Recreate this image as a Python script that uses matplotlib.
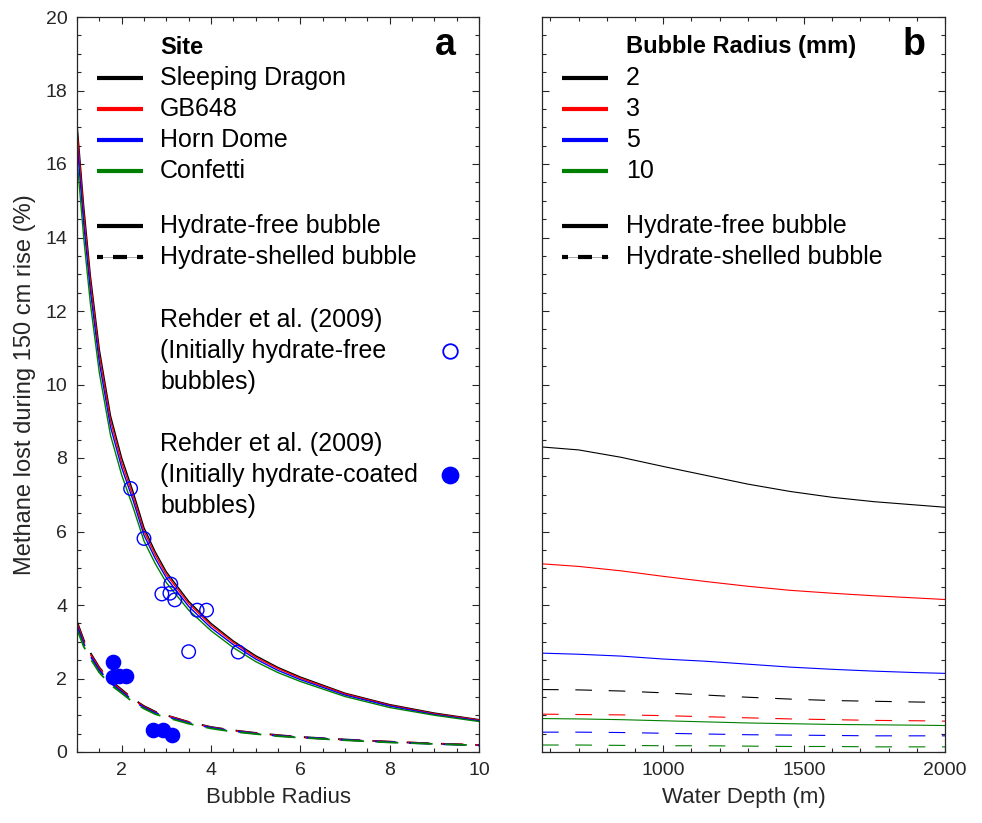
import numpy as np
import matplotlib
matplotlib.use("Agg")
import matplotlib.pyplot as plt
from matplotlib.lines import Line2D
from matplotlib.ticker import MultipleLocator

plt.rcParams['font.family'] = ['Liberation Sans', 'DejaVu Sans']

# ---- panel a: loss vs bubble radius ----
radius = [1.0, 1.15, 1.3, 1.5, 1.75, 2.0, 2.25, 2.5, 2.75, 3.0, 3.5, 4.0, 4.5,
          5.0, 5.5, 6.0, 7.0, 8.0, 9.0, 10.0]
free_sd = [17.1, 14.85, 12.95, 10.95, 9.15, 8.0, 7.1, 6.1, 5.45, 4.9, 4.1, 3.5, 3.02,
           2.62, 2.3, 2.04, 1.6, 1.29, 1.06, 0.88]
free_gb = [16.9, 14.65, 12.78, 10.8, 9.02, 7.88, 6.99, 6.01, 5.37, 4.83, 4.04, 3.45, 2.98,
           2.58, 2.27, 2.01, 1.58, 1.27, 1.04, 0.87]
free_hd = [16.6, 14.38, 12.54, 10.6, 8.85, 7.74, 6.87, 5.9, 5.27, 4.74, 3.96, 3.38, 2.92,
           2.53, 2.22, 1.97, 1.55, 1.25, 1.02, 0.85]
free_cf = [16.15, 14.0, 12.2, 10.32, 8.62, 7.54, 6.68, 5.74, 5.13, 4.61, 3.86, 3.3, 2.84,
           2.46, 2.16, 1.92, 1.51, 1.21, 1.0, 0.83]
shell_sd = [3.55, 3.05, 2.7, 2.3, 1.95, 1.7, 1.45, 1.25, 1.1, 1.0, 0.82, 0.68, 0.59,
            0.52, 0.46, 0.41, 0.34, 0.28, 0.23, 0.19]
shell_gb = [3.5, 3.0, 2.66, 2.27, 1.92, 1.67, 1.43, 1.23, 1.08, 0.99, 0.81, 0.67, 0.58,
            0.51, 0.45, 0.4, 0.33, 0.28, 0.23, 0.19]
shell_hd = [3.43, 2.94, 2.61, 2.22, 1.88, 1.64, 1.4, 1.21, 1.06, 0.97, 0.79, 0.66, 0.57,
            0.5, 0.44, 0.4, 0.33, 0.27, 0.22, 0.18]
shell_cf = [3.34, 2.87, 2.54, 2.16, 1.83, 1.6, 1.36, 1.18, 1.03, 0.94, 0.77, 0.64, 0.55,
            0.49, 0.43, 0.39, 0.32, 0.26, 0.22, 0.18]

sites = ['Sleeping Dragon', 'GB648', 'Horn Dome', 'Confetti']
site_colors = ['black', '#ff0000', '#0000ff', '#008000']

# Rehder et al. (2009)
rehder_free_r = [2.2, 2.5, 2.9, 3.08, 3.1, 3.19, 3.5, 3.69, 3.9, 4.61]
rehder_free_v = [7.17, 5.81, 4.30, 4.32, 4.57, 4.14, 2.73, 3.86, 3.86, 2.72]
rehder_coat_r = [1.8, 1.8, 1.95, 2.1, 2.7, 2.92, 3.12]
rehder_coat_v = [2.46, 2.05, 2.08, 2.06, 0.60, 0.60, 0.47]

# ---- panel b: loss vs water depth ----
depth = [570, 700, 850, 1000, 1150, 1300, 1450, 1600, 1750, 1900, 2000]
free_r2 = [8.30, 8.22, 8.02, 7.77, 7.53, 7.29, 7.09, 6.93, 6.81, 6.72, 6.66]
free_r3 = [5.12, 5.05, 4.93, 4.78, 4.64, 4.51, 4.40, 4.32, 4.25, 4.19, 4.15]
free_r5 = [2.69, 2.66, 2.61, 2.53, 2.47, 2.39, 2.31, 2.25, 2.20, 2.16, 2.14]
free_r10 = [0.91, 0.90, 0.88, 0.85, 0.82, 0.79, 0.77, 0.75, 0.74, 0.73, 0.72]
shell_r2 = [1.70, 1.69, 1.66, 1.61, 1.55, 1.49, 1.44, 1.40, 1.38, 1.36, 1.35]
shell_r3 = [1.03, 1.02, 1.01, 0.99, 0.96, 0.93, 0.90, 0.88, 0.86, 0.85, 0.84]
shell_r5 = [0.54, 0.54, 0.53, 0.51, 0.49, 0.47, 0.46, 0.45, 0.44, 0.44, 0.44]
shell_r10 = [0.19, 0.19, 0.18, 0.17, 0.17, 0.16, 0.15, 0.15, 0.14, 0.14, 0.14]

radii_labels = ['2', '3', '5', '10']

W, H = 982, 823
fig = plt.figure(figsize=(W / 100, H / 100), dpi=100)
ax1 = fig.add_axes([77 / W, 1 - 752 / H, 402 / W, 735 / H])
ax2 = fig.add_axes([542 / W, 1 - 752 / H, 403 / W, 735 / H])

gray = '#262626'

for ys, c in zip([free_sd, free_gb, free_hd, free_cf], site_colors):
    ax1.plot(radius, ys, color=c, lw=1.0)
for ys, c in zip([shell_sd, shell_gb, shell_hd, shell_cf], site_colors):
    ax1.plot(radius, ys, color=c, lw=1.3, dashes=(12, 7))
ax1.scatter(rehder_free_r, rehder_free_v, s=95, facecolors='none', edgecolors='#0000ff',
            linewidths=1.0, zorder=5)
ax1.scatter(rehder_coat_r, rehder_coat_v, s=105, color='#0000ff', zorder=5)

for ys, c in zip([free_r2, free_r3, free_r5, free_r10], site_colors):
    ax2.plot(depth, ys, color=c, lw=0.8)
for ys, c in zip([shell_r2, shell_r3, shell_r5, shell_r10], site_colors):
    ax2.plot(depth, ys, color=c, lw=0.8, dashes=(15, 15))

ax1.set_xlim(1, 10)
ax1.set_ylim(0, 20)
ax1.set_xticks([2, 4, 6, 8, 10])
ax1.set_yticks(range(0, 21, 2))
ax1.xaxis.set_minor_locator(MultipleLocator(0.5))
ax1.yaxis.set_minor_locator(MultipleLocator(0.5))
ax1.set_xlabel('Bubble Radius', fontsize=16, color=gray, labelpad=6)
ax1.set_ylabel('Methane lost during 150 cm rise (%)', fontsize=17, color=gray, labelpad=7)

ax2.set_xlim(570, 2000)
ax2.set_ylim(0, 20)
ax2.set_xticks([1000, 1500, 2000])
ax2.set_yticks(range(0, 21, 2))
ax2.set_yticklabels([])
ax2.xaxis.set_minor_locator(MultipleLocator(100))
ax2.yaxis.set_minor_locator(MultipleLocator(0.5))
ax2.set_xlabel('Water Depth (m)', fontsize=16, color=gray, labelpad=6)

for ax in (ax1, ax2):
    ax.tick_params(which='both', direction='in', top=True, right=True, color=gray,
                   labelcolor=gray, labelsize=14, width=0.8)
    ax.tick_params(which='major', length=5, pad=7)
    ax.tick_params(which='minor', length=3)
    for sp in ax.spines.values():
        sp.set_color(gray)
        sp.set_linewidth(0.9)


# ---- hand-drawn legends (pixel positions from the figure) ----
def fx(x):
    return x / W


def fy(y):
    return 1 - y / H


def solid_key(x0, x1, y, color):
    fig.add_artist(Line2D([fx(x0), fx(x1)], [fy(y), fy(y)], color=color, lw=3,
                          solid_capstyle='butt'))


def dashed_key(x0, y):
    fig.add_artist(Line2D([fx(x0), fx(x0 + 46)], [fy(y), fy(y)], color='#999999', lw=0.6))
    for a, b in [(0, 6), (16, 30), (40, 46)]:
        fig.add_artist(Line2D([fx(x0 + a), fx(x0 + b)], [fy(y), fy(y)], color='black', lw=3,
                              solid_capstyle='butt'))


fs = 18
for x0, tx, title, letter, lx, labels in [
        (97, 160, 'Site', 'a', 435, sites),
        (562, 626, 'Bubble Radius (mm)', 'b', 903, radii_labels)]:
    fig.text(fx(tx), fy(47), title, fontsize=17, fontweight='bold', va='center')
    fig.text(fx(lx), fy(45), letter, fontsize=27, fontweight='bold', va='center')
    for i, (lab, c) in enumerate(zip(labels, site_colors)):
        y = 78 + 31 * i
        solid_key(x0, x0 + 46, y, c)
        fig.text(fx(tx), fy(y), lab, fontsize=fs, va='center')
    solid_key(x0, x0 + 46, 226, 'black')
    fig.text(fx(tx), fy(226), 'Hydrate-free bubble', fontsize=fs, va='center')
    dashed_key(x0, 257)
    fig.text(fx(tx), fy(257), 'Hydrate-shelled bubble', fontsize=fs, va='center')

for y0, txt, filled in [(320, ['Rehder et al. (2009)', '(Initially hydrate-free', 'bubbles)'], False),
                        (444, ['Rehder et al. (2009)', '(Initially hydrate-coated', 'bubbles)'], True)]:
    for i, t in enumerate(txt):
        fig.text(fx(160), fy(y0 + 31 * i), t, fontsize=fs, va='center')
    fig.add_artist(Line2D([fx(450)], [fy(y0 + 31)], marker='o', markersize=11.5 if filled else 10.5,
                          markerfacecolor='#0000ff' if filled else 'none',
                          markeredgecolor='#0000ff', markeredgewidth=1.3, linestyle='none'))

fig.savefig('out.png', dpi=100)
